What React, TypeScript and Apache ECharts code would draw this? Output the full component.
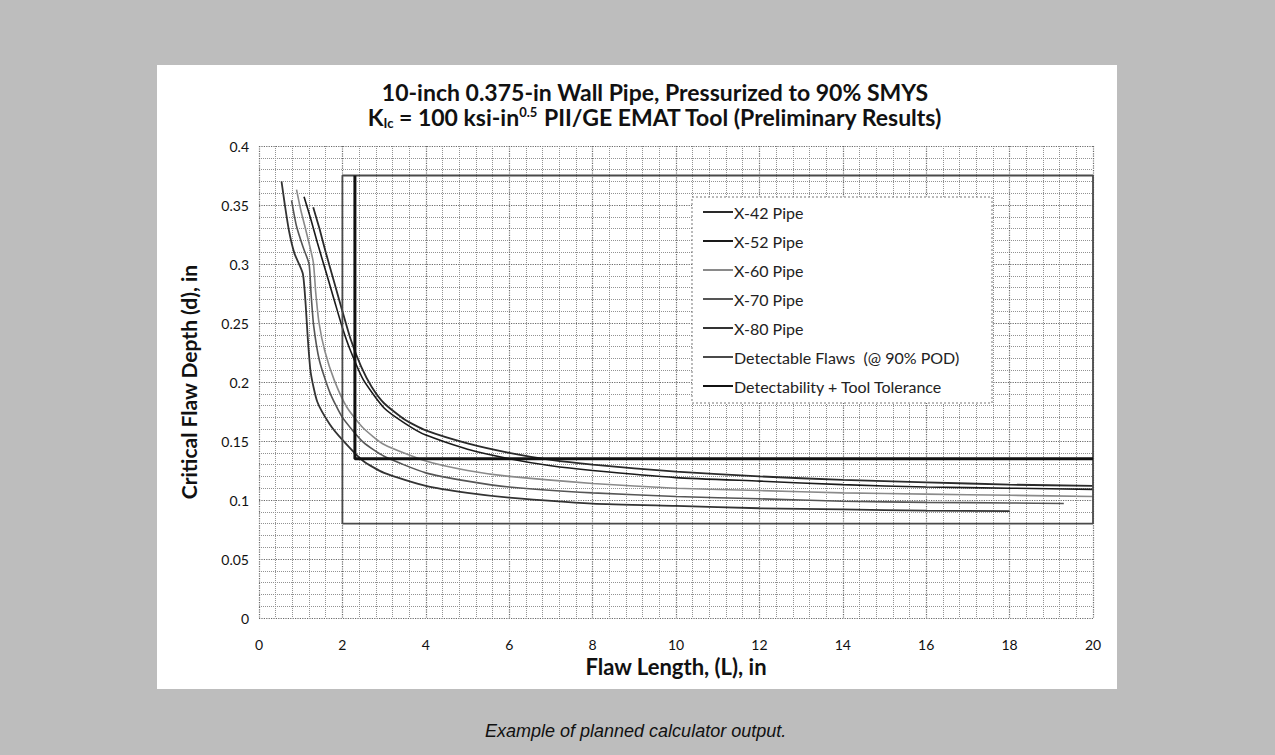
import React, { useEffect, useRef } from "react";
import * as echarts from "echarts";

// Flaw length L (in) vs critical flaw depth d (in)
const x42Pipe: number[][] = [
  [1.3, 0.348], [1.45, 0.33], [1.6, 0.31], [1.8, 0.285], [2.0, 0.26], [2.2, 0.236],
  [2.45, 0.213], [2.7, 0.196], [3.0, 0.182], [3.5, 0.168], [4, 0.159], [5, 0.148],
  [6, 0.140], [7, 0.134], [8, 0.130], [10, 0.124], [12, 0.120], [14, 0.117],
  [16, 0.115], [18, 0.113], [20, 0.112],
];
const x52Pipe: number[][] = [
  [1.08, 0.357], [1.25, 0.337], [1.4, 0.318], [1.6, 0.294], [1.8, 0.27], [2.0, 0.246],
  [2.2, 0.226], [2.5, 0.202], [3.0, 0.178], [3.5, 0.165], [4, 0.155], [5, 0.143],
  [6, 0.135], [7, 0.129], [8, 0.125], [10, 0.119], [12, 0.116], [14, 0.113],
  [16, 0.111], [18, 0.110], [20, 0.109],
];
const x60Pipe: number[][] = [
  [0.9, 0.363], [1.0, 0.346], [1.1, 0.332], [1.3, 0.302], [1.36, 0.276], [1.44, 0.25],
  [1.58, 0.226], [1.8, 0.202], [2.1, 0.179], [2.5, 0.161], [3, 0.147], [4, 0.133],
  [5, 0.125], [6, 0.120], [8, 0.114], [10, 0.110], [12, 0.108], [14, 0.106],
  [16, 0.105], [18, 0.104], [20, 0.103],
];
const x70Pipe: number[][] = [
  [0.78, 0.354], [0.9, 0.332], [1.05, 0.315], [1.2, 0.300], [1.25, 0.274], [1.31, 0.248],
  [1.45, 0.218], [1.7, 0.191], [2.0, 0.170], [2.5, 0.149], [3, 0.137], [4, 0.123],
  [5, 0.116], [6, 0.111], [8, 0.106], [10, 0.103], [12, 0.101], [14, 0.099],
  [16, 0.098], [18, 0.0975], [19.3, 0.097],
];
const x80Pipe: number[][] = [
  [0.54, 0.370], [0.62, 0.350], [0.72, 0.328], [0.85, 0.309], [1.05, 0.292], [1.12, 0.265],
  [1.17, 0.237], [1.24, 0.208], [1.4, 0.183], [1.7, 0.164], [2.0, 0.151], [2.5, 0.133],
  [3, 0.123], [4, 0.112], [5, 0.106], [6, 0.102], [8, 0.097], [10, 0.095],
  [12, 0.093], [14, 0.092], [16, 0.091], [18, 0.0905],
];
const detectableFlaws: number[][] = [
  [2.0, 0.08], [2.0, 0.375], [20, 0.375], [20, 0.08], [2.0, 0.08],
];
const detectabilityTolerance: number[][] = [
  [2.3, 0.375], [2.3, 0.135], [20, 0.135],
];

const seriesNames = [
  "X-42 Pipe",
  "X-52 Pipe",
  "X-60 Pipe",
  "X-70 Pipe",
  "X-80 Pipe",
  "Detectable Flaws  (@ 90% POD)",
  "Detectability + Tool Tolerance",
];
const seriesData = [x42Pipe, x52Pipe, x60Pipe, x70Pipe, x80Pipe, detectableFlaws, detectabilityTolerance];
const seriesColors = ["#2a2a2a", "#1a1a1a", "#8a8a8a", "#555555", "#333333", "#4a4a4a", "#111111"];
const seriesWidths = [1.8, 1.6, 1.6, 1.6, 1.8, 1.8, 3];

const titleLine1 = "10-inch 0.375-in Wall Pipe, Pressurized to 90% SMYS";
const xAxisTitle = "Flaw Length, (L), in";
const yAxisTitle = "Critical Flaw Depth (d), in";
const caption = "Example of planned calculator output.";

export default function App() {
  const ref = useRef<HTMLDivElement>(null);
  useEffect(() => {
    if (!ref.current) return;
    const chart = echarts.init(ref.current, null, { renderer: "svg" });
    const font = "Lato, 'Open Sans', sans-serif";
    chart.setOption({
      animation: false,
      backgroundColor: "#bdbdbd",
      textStyle: { fontFamily: font },
      title: [
        {
          text: titleLine1,
          left: 650,
          top: 75,
          textAlign: "center",
          textStyle: { fontSize: 23, fontWeight: "bold", color: "#111", fontFamily: font },
        },
        {
          text: "{n|K}{sub|Ic}{n| = 100 ksi-in}{sup|0.5}{n| PII/GE EMAT Tool (Preliminary Results)}",
          left: 650,
          top: 100,
          textAlign: "center",
          textStyle: {
            fontFamily: font,
            rich: {
              n: { fontSize: 23, fontWeight: "bold", color: "#111", fontFamily: font },
              sub: { fontSize: 13, fontWeight: "bold", color: "#111", fontFamily: font, padding: [11, 0, 0, 0] },
              sup: { fontSize: 13, fontWeight: "bold", color: "#111", fontFamily: font, padding: [0, 0, 11, 0] },
            },
          },
        },
      ],
      graphic: [
        {
          type: "rect",
          z: -10,
          silent: true,
          shape: { x: 157, y: 65, width: 960, height: 624 },
          style: { fill: "#ffffff" },
        },
        {
          type: "rect",
          z: 3,
          silent: true,
          shape: { x: 692, y: 197, width: 300, height: 206 },
          style: { fill: "#ffffff", stroke: "#777", lineWidth: 1, lineDash: [2, 2] },
        },
        {
          type: "text",
          left: 635 - 150,
          top: 722,
          style: {
            text: caption,
            font: "italic 18px 'Liberation Sans', Arial, sans-serif",
            fill: "#111",
          },
        },
      ],
      legend: {
        orient: "vertical",
        left: 698,
        top: 198,
        itemGap: 11,
        itemWidth: 30,
        itemHeight: 18,
        icon: "path://M0,8 L30,8 L30,10 L0,10 Z",
        z: 5,
        textStyle: { fontSize: 16, color: "#222", fontFamily: font, padding: [0, 0, 0, -4], lineHeight: 18 },
        data: seriesNames.map((n, i) => ({ name: n, itemStyle: { color: seriesColors[i] } })),
      },
      grid: { left: 259, top: 146, right: 182, bottom: 137, containLabel: false },
      xAxis: {
        type: "value",
        min: 0,
        max: 20,
        interval: 2,
        name: xAxisTitle,
        nameLocation: "middle",
        nameGap: 36,
        nameTextStyle: { fontSize: 22, fontWeight: "bold", color: "#111", fontFamily: font },
        axisLine: { show: false },
        axisTick: { show: false },
        axisLabel: { fontSize: 14, color: "#111", margin: 19 },
        splitLine: { show: true, lineStyle: { color: "#6a6a6a", type: "dotted", width: 1.2 } },
        minorTick: { show: false, splitNumber: 5 },
        minorSplitLine: { show: true, lineStyle: { color: "#929292", type: "dotted", width: 1 } },
      },
      yAxis: {
        type: "value",
        min: 0,
        max: 0.4,
        interval: 0.05,
        name: yAxisTitle,
        nameLocation: "middle",
        nameRotate: 90,
        nameGap: 60,
        nameTextStyle: { fontSize: 21, fontWeight: "bold", color: "#111", fontFamily: font },
        axisLine: { show: false },
        axisTick: { show: false },
        axisLabel: { fontSize: 14, color: "#111", margin: 10 },
        splitLine: { show: true, lineStyle: { color: "#6a6a6a", type: "dotted", width: 1.2 } },
        minorTick: { show: false, splitNumber: 5 },
        minorSplitLine: { show: true, lineStyle: { color: "#929292", type: "dotted", width: 1 } },
      },
      series: seriesNames.map((n, i) => ({
        name: n,
        type: "line",
        data: seriesData[i],
        symbol: "none",
        smooth: i < 5 ? 0.2 : false,
        lineStyle: { color: seriesColors[i], width: seriesWidths[i] },
        itemStyle: { color: seriesColors[i] },
        z: i === 6 ? 3 : 2,
      })),
    });
    return () => chart.dispose();
  }, []);
  return (
    <div
      ref={ref}
      style={{ position: "absolute", left: 0, top: 0, width: 1275, height: 755 }}
    />
  );
}
